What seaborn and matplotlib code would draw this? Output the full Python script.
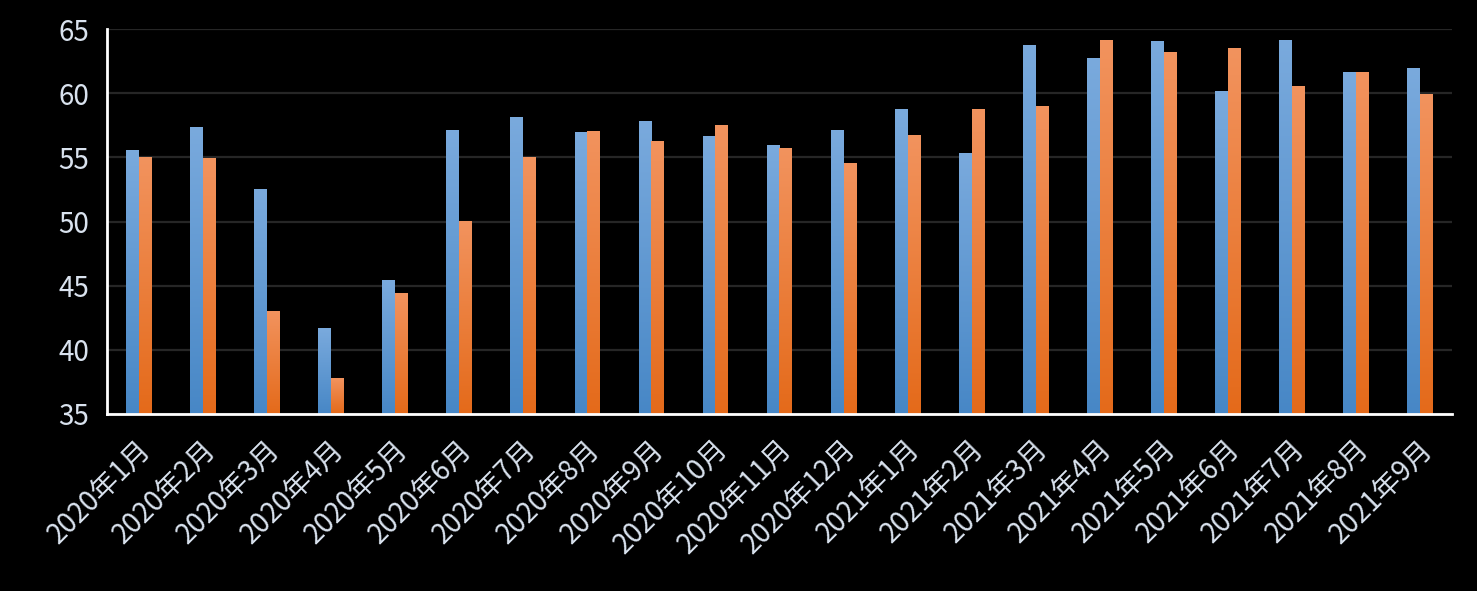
import numpy as np
import pandas as pd
import matplotlib.pyplot as plt
import seaborn as sns
from matplotlib.colors import LinearSegmentedColormap
from matplotlib.transforms import ScaledTranslation

# 数据
months = ['2020年1月', '2020年2月', '2020年3月', '2020年4月', '2020年5月', '2020年6月',
          '2020年7月', '2020年8月', '2020年9月', '2020年10月', '2020年11月', '2020年12月',
          '2021年1月', '2021年2月', '2021年3月', '2021年4月', '2021年5月', '2021年6月',
          '2021年7月', '2021年8月', '2021年9月']
series_blue = [55.5, 57.3, 52.5, 41.7, 45.4, 57.1, 58.1, 56.9, 57.8, 56.6, 55.9, 57.1,
               58.7, 55.3, 63.7, 62.7, 64.0, 60.1, 64.1, 61.6, 61.9]
series_orange = [55.0, 54.9, 43.0, 37.8, 44.4, 50.0, 55.0, 57.0, 56.2, 57.5, 55.7, 54.5,
                 56.7, 58.7, 59.0, 64.1, 63.2, 63.5, 60.5, 61.6, 59.9]
y_ticks = [35, 40, 45, 50, 55, 60, 65]

df = pd.DataFrame({
    '月份': months * 2,
    '值': series_blue + series_orange,
    '系列': ['A'] * len(months) + ['B'] * len(months),
})

sns.set_style('dark')
plt.rcParams['font.family'] = ['Noto Sans CJK SC', 'DejaVu Sans']
text_color = '#d9e2ee'

fig = plt.figure(figsize=(14.77, 5.91), dpi=100, facecolor='black')
ax = fig.add_axes([0.0724, 0.2995, 0.9107, 0.6514])
ax.set_facecolor('black')

sns.barplot(data=df, x='月份', y='值', hue='系列', palette=['#5b9bd5', '#ed7d31'],
            width=0.4, ax=ax, legend=False, saturation=1)

# 渐变填充
cmaps = [LinearSegmentedColormap.from_list('b', ['#4787c6', '#7aaadd']),
         LinearSegmentedColormap.from_list('o', ['#e46a1a', '#f2935e'])]
grad = np.linspace(0, 1, 256).reshape(-1, 1)
n = len(months)
for i, p in enumerate(ax.patches[:2 * n]):
    x0, w = p.get_x(), p.get_width()
    y0 = max(p.get_y(), 35)
    y1 = p.get_y() + p.get_height()
    ax.imshow(grad, extent=[x0, x0 + w, y0, y1], origin='lower', aspect='auto',
              cmap=cmaps[i // n], zorder=3)
    p.set_visible(False)

ax.set_xlim(-0.5, n - 0.5)
ax.set_ylim(35, 65)

# 坐标轴
ax.set_yticks(y_ticks)
ax.set_yticklabels([str(v) for v in y_ticks], color=text_color, fontsize=20)
ax.tick_params(axis='y', length=0, pad=13)
ax.yaxis.grid(True, color='#262626', lw=1.6)
ax.xaxis.grid(False)
ax.set_axisbelow(True)

ax.set_xticks(np.arange(-0.5, n, 1))
ax.set_xticklabels([])
ax.tick_params(axis='x', which='major', length=8, width=2, color='white')
ax.set_xticks(range(n), minor=True)
ax.set_xticklabels(months, minor=True, rotation=45, ha='right', va='center',
                   rotation_mode='anchor', color=text_color, fontsize=20)
ax.tick_params(axis='x', which='minor', length=0, pad=22)
offset = ScaledTranslation(8 / 100, 0, fig.dpi_scale_trans)
for lab in ax.get_xticklabels(minor=True):
    lab.set_transform(lab.get_transform() + offset)

ax.set_xlabel('')
ax.set_ylabel('')
for side in ['top', 'right']:
    ax.spines[side].set_visible(False)
for side in ['left', 'bottom']:
    ax.spines[side].set_visible(True)
    ax.spines[side].set_color('white')
    ax.spines[side].set_linewidth(2)
    ax.spines[side].set_zorder(5)

fig.savefig('out.png', dpi=100, facecolor='black')
